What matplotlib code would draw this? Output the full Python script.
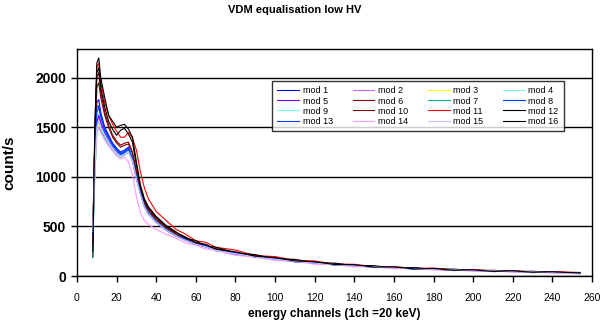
import matplotlib.pyplot as plt
from matplotlib.ticker import MultipleLocator

plt.rcParams['font.family'] = ['Liberation Sans', 'DejaVu Sans']

# channel positions where the spectra were sampled
channels = [8, 9, 10, 11, 12, 14, 16, 18, 20, 22, 24, 26, 28, 30, 32, 34, 36, 40, 45, 50,
            55, 60, 65, 70, 80, 90, 100, 110, 120, 130, 140, 150, 160, 170, 180, 190,
            200, 210, 220, 230, 240, 254]

mod1 = [300, 1200, 1750, 1780, 1650, 1500, 1420, 1340, 1290, 1250, 1270, 1300, 1190, 1010, 840, 720, 640, 550, 470, 410,
        365, 325, 300, 265, 228, 198, 172, 150, 133, 118, 104, 92, 84, 76, 68, 63, 57, 51, 47, 41, 37, 30]
mod2 = [400, 1100, 1550, 1600, 1540, 1450, 1380, 1310, 1270, 1230, 1250, 1270, 1170, 980, 830, 700, 630, 545, 465, 405,
        360, 320, 295, 262, 225, 195, 170, 152, 131, 116, 103, 93, 82, 75, 69, 61, 56, 50, 46, 40, 36, 28]
mod3 = [500, 1050, 1450, 1520, 1480, 1400, 1340, 1290, 1240, 1200, 1230, 1250, 1180, 990, 840, 710, 640, 555, 470, 412,
        362, 328, 298, 268, 230, 200, 174, 154, 134, 119, 106, 94, 84, 77, 70, 62, 58, 52, 47, 42, 38, 31]
mod4 = [350, 1150, 1600, 1640, 1560, 1460, 1390, 1320, 1260, 1240, 1260, 1280, 1200, 1000, 850, 715, 645, 552, 472, 415,
        365, 326, 302, 266, 229, 199, 173, 153, 132, 118, 105, 93, 83, 76, 69, 62, 57, 51, 47, 41, 37, 29]
mod5 = [450, 1100, 1550, 1620, 1550, 1440, 1360, 1300, 1250, 1220, 1240, 1260, 1160, 980, 830, 700, 625, 540, 462, 402,
        358, 320, 293, 260, 222, 193, 168, 148, 130, 115, 102, 91, 81, 74, 67, 60, 55, 49, 45, 39, 35, 27]
mod6 = [400, 1400, 2000, 2050, 1850, 1650, 1520, 1420, 1360, 1320, 1340, 1350, 1250, 1060, 880, 750, 670, 575, 490, 428,
        378, 338, 308, 275, 236, 205, 178, 158, 138, 122, 108, 96, 86, 79, 71, 64, 59, 53, 48, 43, 39, 32]
mod7 = [600, 1000, 1450, 1500, 1470, 1390, 1330, 1280, 1230, 1200, 1220, 1250, 1170, 990, 835, 705, 635, 548, 468, 410,
        362, 324, 297, 265, 227, 197, 171, 151, 132, 117, 104, 92, 83, 75, 68, 61, 56, 50, 46, 40, 36, 29]
mod8 = [350, 1250, 1700, 1720, 1620, 1480, 1400, 1330, 1280, 1240, 1260, 1290, 1190, 1000, 845, 712, 638, 550, 468, 408,
        362, 324, 298, 264, 226, 196, 171, 150, 131, 117, 103, 92, 83, 75, 68, 61, 56, 50, 46, 40, 36, 28]
mod9 = [170, 1000, 1500, 1560, 1500, 1420, 1350, 1290, 1240, 1210, 1230, 1260, 1170, 985, 830, 705, 632, 545, 466, 406,
        360, 322, 296, 263, 226, 196, 170, 150, 131, 116, 103, 92, 82, 75, 68, 61, 56, 50, 46, 40, 36, 28]
mod10 = [500, 1350, 1900, 1950, 1800, 1620, 1500, 1400, 1340, 1300, 1320, 1330, 1240, 1050, 870, 740, 660, 568, 485, 424,
         374, 334, 305, 272, 233, 203, 176, 156, 136, 121, 107, 95, 85, 78, 70, 63, 58, 52, 47, 42, 38, 31]
mod11 = [350, 1500, 2100, 2150, 1950, 1750, 1620, 1530, 1460, 1400, 1400, 1450, 1390, 1270, 1050, 890, 780, 650, 560, 470,
         420, 355, 340, 290, 262, 205, 196, 158, 152, 120, 118, 94, 96, 76, 80, 62, 66, 50, 55, 40, 45, 34]
mod12 = [190, 1500, 2150, 2200, 2000, 1800, 1620, 1560, 1500, 1520, 1530, 1480, 1400, 1150, 920, 780, 700, 600, 510, 445,
         380, 358, 300, 292, 232, 216, 174, 168, 132, 130, 104, 104, 82, 86, 66, 70, 54, 58, 44, 48, 34, 36]
mod13 = [400, 1200, 1650, 1700, 1600, 1470, 1390, 1320, 1270, 1230, 1250, 1280, 1180, 995, 838, 708, 634, 546, 466, 406,
         368, 315, 304, 255, 232, 188, 176, 142, 136, 110, 108, 85, 88, 68, 72, 55, 60, 44, 50, 34, 40, 24]
mod14 = [500, 1050, 1450, 1500, 1450, 1370, 1310, 1260, 1210, 1180, 1200, 1150, 1020, 800, 640, 560, 520, 470, 420, 380,
         332, 312, 272, 258, 208, 192, 156, 150, 118, 116, 92, 94, 73, 77, 60, 62, 48, 52, 38, 42, 28, 22]
mod15 = [450, 1100, 1500, 1560, 1500, 1410, 1340, 1285, 1235, 1205, 1225, 1250, 1165, 980, 828, 700, 628, 542, 463, 404,
         358, 320, 294, 261, 224, 195, 169, 149, 130, 115, 102, 91, 81, 74, 67, 60, 55, 49, 45, 39, 35, 27]
mod16 = [250, 1450, 2050, 2100, 1900, 1700, 1560, 1480, 1420, 1470, 1490, 1430, 1350, 1120, 900, 765, 688, 590, 502, 438,
         392, 336, 320, 272, 244, 200, 186, 152, 144, 116, 114, 90, 92, 72, 76, 58, 62, 46, 52, 38, 42, 30]

series = [mod1, mod2, mod3, mod4, mod5, mod6, mod7, mod8,
          mod9, mod10, mod11, mod12, mod13, mod14, mod15, mod16]
labels = ['mod 1', 'mod 2', 'mod 3', 'mod 4', 'mod 5', 'mod 6', 'mod 7', 'mod 8',
          'mod 9', 'mod 10', 'mod 11', 'mod 12', 'mod 13', 'mod 14', 'mod 15', 'mod 16']
colors = ['#0000ff', '#cc66ff', '#ffff00', '#80ffd0', '#8000ff', '#800000', '#00c080', '#0040ff',
          '#80ffff', '#800000', '#ff0000', '#000000', '#0040ff', '#ff99ff', '#c0c0ff', '#000000']

fig = plt.figure(figsize=(6.03, 3.25), dpi=100)
ax = fig.add_axes([77 / 603, 1 - 276 / 325, 515 / 603, 227 / 325])

lines = []
for vals, lab, col in zip(series, labels, colors):
    ln, = ax.plot(channels, vals, color=col, lw=0.8, label=lab)
    lines.append(ln)

ax.set_xlim(0, 260)
ax.set_ylim(0, 2290)
ax.xaxis.set_major_locator(MultipleLocator(20))
ax.yaxis.set_major_locator(MultipleLocator(500))
ax.grid(axis='y', color='black', lw=1)
ax.set_axisbelow(True)
for sp in ax.spines.values():
    sp.set_linewidth(1)
ax.tick_params(axis='y', direction='out', length=4, width=1, pad=4, labelsize=10)
ax.tick_params(axis='x', direction='out', length=4, width=1, pad=8, labelsize=7.5)
for t in ax.get_yticklabels():
    t.set_fontweight('bold')

ax.set_xlabel('energy channels (1ch =20 keV)', fontsize=8.5, fontweight='bold', labelpad=4)
ax.set_ylabel('count/s', fontsize=11, fontweight='bold', labelpad=13)
fig.text(295 / 603, 1 - 10 / 325, 'VDM equalisation low HV', ha='center', va='center',
         fontsize=8, fontweight='bold')

# legend reads row by row in the original
order = [0, 4, 8, 12, 1, 5, 9, 13, 2, 6, 10, 14, 3, 7, 11, 15]
leg = fig.legend([lines[i] for i in order], [labels[i] for i in order], ncol=4,
                 loc='upper left', bbox_to_anchor=(272 / 603, 1 - 81 / 325), borderaxespad=0,
                 fontsize=6.5, handlelength=2.4, handletextpad=0.4, columnspacing=2.2,
                 labelspacing=0.12, borderpad=0.6, frameon=True, fancybox=False)
leg.get_frame().set_edgecolor('black')
leg.get_frame().set_linewidth(1)

fig.savefig('out.png', dpi=100)
